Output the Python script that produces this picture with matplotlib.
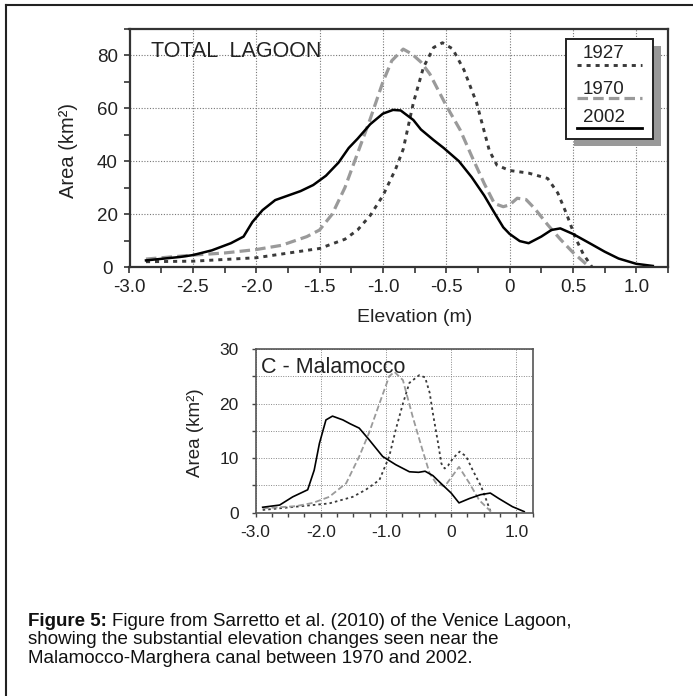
import numpy as np
import matplotlib
matplotlib.use('Agg')
import matplotlib.pyplot as plt
from matplotlib.patches import Rectangle
from matplotlib.lines import Line2D
from matplotlib.ticker import MultipleLocator

plt.rcParams['font.family'] = ['Liberation Sans', 'DejaVu Sans']

W, H = 693, 696

# ---- data: TOTAL LAGOON (elevation m, area km2)
elev_1927 = [-2.87, -2.5, -2.0, -1.5, -1.3, -1.2, -1.1, -1.0, -0.9, -0.84, -0.76, -0.68, -0.6,
             -0.53, -0.45, -0.36, -0.26, -0.16, -0.1, 0.0, 0.15, 0.3, 0.38, 0.45, 0.52, 0.58,
             0.65]
area_1927 = [2, 2.2, 3.5, 7, 10.5, 14, 19.5, 27, 37, 44.5, 62, 75.5, 83,
             84.8, 82.5, 74.5, 62, 44, 38.5, 36.5, 35.5, 33.5, 28, 20, 11, 5,
             0]
elev_1970 = [-2.87, -2.5, -2.25, -2.0, -1.8, -1.6, -1.5, -1.4, -1.3, -1.2, -1.1, -1.0, -0.93,
             -0.84, -0.77, -0.7, -0.63, -0.5, -0.39, -0.3, -0.2, -0.12, -0.05, 0.0, 0.06, 0.13,
             0.2, 0.3, 0.4, 0.5, 0.63]
area_1970 = [3, 4.5, 5.3, 6.6, 8.2, 11.5, 14, 20, 30, 43, 56, 70, 78,
             82.4, 80.5, 77.5, 73, 61, 51.8, 42, 31.5, 24, 22.8, 23.5, 26, 25.5,
             22, 16, 10.5, 5.5, 0]
elev_2002 = [-2.87, -2.6, -2.5, -2.35, -2.2, -2.1, -2.03, -1.95, -1.85, -1.75, -1.65, -1.55,
             -1.45, -1.35, -1.27, -1.2, -1.1, -1.0, -0.92, -0.86, -0.76, -0.7, -0.6, -0.52,
             -0.4, -0.3, -0.2, -0.12, -0.05, 0.0, 0.08, 0.15, 0.25, 0.33, 0.4, 0.5, 0.65,
             0.75, 0.86, 1.0, 1.13]
area_2002 = [2.5, 3.8, 4.5, 6.3, 9, 11.5, 17, 21.5, 25.3, 27, 28.7, 31,
             34.5, 39.5, 45, 48.5, 54, 58, 59.4, 59.2, 55.6, 52, 48, 45,
             40, 34, 27, 20.5, 15, 12.5, 9.8, 9, 11.5, 14, 14.6, 12.5, 8.5,
             5.8, 3.2, 1.2, 0.4]

# ---- data: C - Malamocco
m_elev_1927 = [-2.89, -2.38, -1.87, -1.51, -1.31, -1.1, -0.95, -0.85, -0.74, -0.64, -0.49,
               -0.4, -0.33, -0.28, -0.2, -0.15, -0.1, -0.05, 0.03, 0.13, 0.23, 0.33, 0.46,
               0.54, 0.6]
m_area_1927 = [0.5, 1.1, 1.7, 2.9, 4.2, 6, 10.3, 15.2, 20, 23.8, 25.2,
               24.8, 22, 18.2, 12.7, 9, 8.1, 8.6, 10, 11.2, 10.3, 7.8, 4.8,
               2.3, 0.3]
m_elev_1970 = [-2.89, -2.38, -2.12, -1.87, -1.61, -1.41, -1.26, -1.1, -0.95, -0.87, -0.74,
               -0.59, -0.44, -0.33, -0.23, -0.1, 0.12, 0.28, 0.43, 0.61]
m_area_1970 = [0.8, 1.2, 1.8, 2.9, 5.4, 10.3, 14.6, 20, 25, 25.8, 24.3,
               17.6, 11.5, 7.2, 5.4, 4.8, 8.4, 5.4, 2.3, 0.2]
m_elev_2002 = [-2.89, -2.63, -2.43, -2.2, -2.1, -2.02, -1.92, -1.82, -1.66, -1.55, -1.41,
               -1.26, -1.05, -0.85, -0.64, -0.5, -0.4, -0.28, -0.15, 0.0, 0.12, 0.28, 0.45,
               0.6, 0.73, 0.94, 1.12]
m_area_2002 = [1.0, 1.4, 2.9, 4.2, 7.8, 12.7, 17, 17.7, 17, 16.3, 15.5,
               13.4, 10.3, 8.8, 7.5, 7.4, 7.6, 6.8, 5.3, 3.6, 1.8, 2.6, 3.3,
               3.6, 2.6, 1.1, 0.2]

years = ['1927', '1970', '2002']

caption_head = 'Figure 5:'
caption = ['Figure from Sarretto et al. (2010) of the Venice Lagoon,',
           'showing the substantial elevation changes seen near the',
           'Malamocco-Marghera canal between 1970 and 2002.']


def fx(x):
    return x / W


def fy(y):
    return 1 - y / H


def ax_rect(left, top, right, bottom):
    return [fx(left), fy(bottom), (right - left) / W, (bottom - top) / H]


fig = plt.figure(figsize=(W / 100, H / 100), dpi=100)

# outer frame (only top/left visible in the reference)
fig.add_artist(Line2D([fx(6), fx(W + 5)], [fy(5), fy(5)], color='#222222', lw=1.5))
fig.add_artist(Line2D([fx(6), fx(6)], [fy(5), fy(H + 5)], color='#222222', lw=1.5))

styles = {
    '1927': dict(color='#3a3a3a', dashes=(1.4, 1.7)),
    '1970': dict(color='#9a9a9a', dashes=(3.3, 1.6)),
    '2002': dict(color='black'),
}

# ---------------- top panel
ax = fig.add_axes(ax_rect(129.5, 29, 668, 267))
ax.plot(elev_1927, area_1927, lw=2.1, **styles['1927'])
ax.plot(elev_1970, area_1970, lw=2.3, **styles['1970'])
ax.plot(elev_2002, area_2002, lw=1.8, **styles['2002'])
ax.set_xlim(-3.0, 1.25)
ax.set_ylim(0, 90)
ax.xaxis.set_minor_locator(MultipleLocator(0.25))
ax.yaxis.set_major_locator(MultipleLocator(20))
ax.yaxis.set_minor_locator(MultipleLocator(10))
ax.set_xticks([-3.0, -2.5, -2.0, -1.5, -1.0, -0.5, 0, 0.5, 1.0])
ax.set_xticklabels(['-3.0', '-2.5', '-2.0', '-1.5', '-1.0', '-0.5', '0', '0.5', '1.0'])
ax.grid(True, which='major', ls=(0, (1, 1.5)), color='#777777', lw=0.8)
ax.tick_params(which='both', direction='out', length=4, width=1.2, color='#333333',
               labelsize=13.5, labelcolor='#222222')
ax.tick_params(axis='x', pad=5)
ax.tick_params(axis='y', pad=12)
for lab in ax.get_yticklabels():
    lab.set_horizontalalignment('center')
for s in ax.spines.values():
    s.set_color('#333333')
    s.set_linewidth(1.6)
ax.text(0.04, 0.905, 'TOTAL  LAGOON', transform=ax.transAxes, fontsize=15.5,
        color='#222222', va='center', ha='left')
fig.text(fx(415), fy(317), 'Elevation (m)', fontsize=14, ha='center', va='center',
         color='#222222')
fig.text(fx(68.5), fy(150), 'Area (km²)', fontsize=14.5, ha='center', va='center',
         rotation=90, color='#222222')

# legend box with shadow
fig.add_artist(Rectangle((fx(573.5), fy(146)), (652.7 - 565.7) / W, (139 - 39) / H,
                         transform=fig.transFigure, facecolor='#999999', edgecolor='none'))
fig.add_artist(Rectangle((fx(565.7), fy(139)), (652.7 - 565.7) / W, (139 - 39) / H,
                         transform=fig.transFigure, facecolor='white', edgecolor='#222222',
                         lw=1.4))
leg_text_y = [54, 89, 118]
leg_line_y = [65, 98, 128]
leg_lw = {'1927': 2.1, '1970': 2.3, '2002': 2.0}
for yr, ty, ly in zip(years, leg_text_y, leg_line_y):
    fig.text(fx(604), fy(ty), yr, fontsize=13.5, ha='center', va='center', color='#222222')
    fig.add_artist(Line2D([fx(577), fx(642)], [fy(ly), fy(ly)], lw=leg_lw[yr], **styles[yr]))

# ---------------- bottom panel
bx = fig.add_axes(ax_rect(255.5, 349, 532.7, 512.7))
bx.plot(m_elev_1927, m_area_1927, lw=1.3, **styles['1927'])
bx.plot(m_elev_1970, m_area_1970, lw=1.3, **styles['1970'])
bx.plot(m_elev_2002, m_area_2002, lw=1.2, **styles['2002'])
bx.set_xlim(-3.0, 1.25)
bx.set_ylim(0, 30)
bx.set_xticks([-3.0, -2.0, -1.0, 0, 1.0])
bx.set_xticklabels(['-3.0', '-2.0', '-1.0', '0', '1.0'])
bx.xaxis.set_minor_locator(MultipleLocator(0.25))
bx.set_yticks([0, 10, 20, 30])
bx.yaxis.set_minor_locator(MultipleLocator(5))
bx.grid(True, which='major', axis='x', ls=(0, (1, 1.5)), color='#888888', lw=0.7)
bx.grid(True, which='both', axis='y', ls=(0, (1, 1.5)), color='#888888', lw=0.7)
bx.tick_params(which='both', direction='out', length=3, width=1.0, color='#444444',
               labelsize=12.5, labelcolor='#222222')
bx.tick_params(axis='x', pad=6)
bx.tick_params(axis='y', pad=9)
for s in bx.spines.values():
    s.set_color('#555555')
    s.set_linewidth(1.2)
bx.text(0.02, 0.89, 'C - Malamocco', transform=bx.transAxes, fontsize=15.5,
        color='#222222', va='center', ha='left')
fig.text(fx(195), fy(433), 'Area (km²)', fontsize=13.5, ha='center', va='center',
         rotation=90, color='#222222')

# ---------------- caption
cap_size = 13.5
head = fig.text(fx(28.5), fy(625.5), caption_head, fontsize=cap_size, fontweight='bold',
                va='baseline', ha='left', color='#111111')
fig.canvas.draw()
head_right = head.get_window_extent(renderer=fig.canvas.get_renderer()).x1
fig.text(head_right / W + 4.5 / W, fy(625.5), caption[0], fontsize=cap_size,
         va='baseline', ha='left', color='#111111')
fig.text(fx(28.5), fy(644), caption[1], fontsize=cap_size, va='baseline', ha='left',
         color='#111111')
fig.text(fx(28.5), fy(662.7), caption[2], fontsize=cap_size, va='baseline', ha='left',
         color='#111111')

fig.savefig('out.png', dpi=100)
